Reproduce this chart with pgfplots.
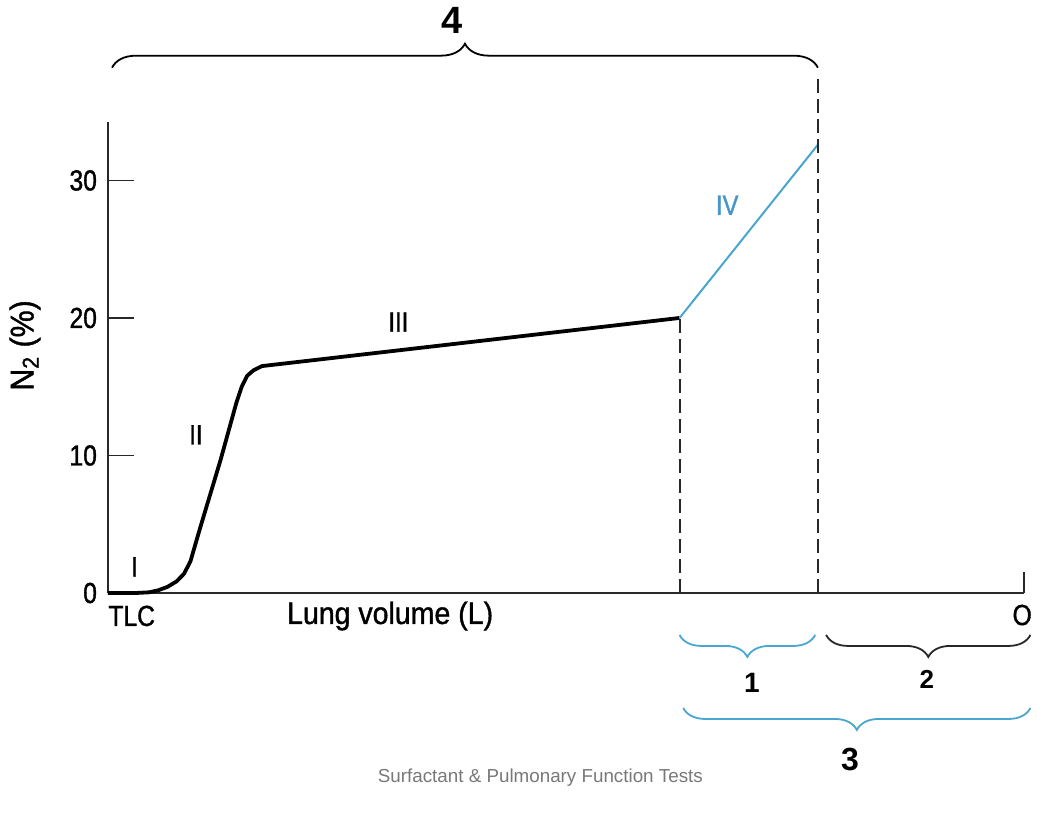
\documentclass[border=0pt]{standalone}
\usepackage{fontspec}
\setmainfont{Liberation Sans}
\newfontfamily\narrowsans[FakeStretch=0.85, FakeBold=1.2]{Liberation Sans}
\newfontfamily\labelsans[FakeStretch=0.92, FakeBold=1.2]{Liberation Sans}
\usepackage{pgfplots}
\pgfplotsset{compat=1.18}
\usetikzlibrary{decorations.pathreplacing}

\definecolor{phaseblue}{RGB}{74,166,206}
\definecolor{labelblue}{RGB}{70,150,200}
\definecolor{axisgray}{RGB}{40,40,40}
\definecolor{captiongray}{RGB}{120,120,120}

\begin{document}
\begin{tikzpicture}
\useasboundingbox (0,0) rectangle (530pt,407pt);
\begin{axis}[
  at={(54pt,110.5pt)}, anchor=south west,
  scale only axis, width=458pt, height=235.5pt,
  xmin=0, xmax=100, ymin=0, ymax=34.25,
  axis lines=left, axis line style={-, axisgray, line width=0.9pt},
  xtick=\empty,
  ytick={0,10,20,30},
  tick align=inside, major tick length=13pt,
  tick style={axisgray, line width=0.9pt},
  /pgf/number format/assume math mode=true,
  yticklabel style={font=\fontsize{14.5}{16}\narrowsans, xshift=-2pt},
  clip=false,
]
% phases I-III of the single-breath nitrogen washout
\addplot[black, line width=1.9pt, line join=round] coordinates {
  (0,0) (3,0) (4.5,0.05) (5.5,0.2) (6.5,0.45) (7.5,0.85) (8.3,1.4)
  (9,2.3) (10,4.6) (12.3,9.7) (14.0,13.8) (14.6,15.0) (15.2,15.8)
  (15.9,16.2) (16.8,16.5) (62.4,20.0)
};
% phase IV
\addplot[phaseblue, line width=1pt] coordinates {(62.4,20.0) (77.5,32.6)};

% dashed markers for closing volume and residual volume
\draw[axisgray, line width=1pt, dash pattern=on 7pt off 3pt]
  (axis cs:62.4,0) -- (axis cs:62.4,20.0);
\draw[axisgray, line width=1pt, dash pattern=on 7pt off 3pt]
  (axis cs:77.5,0) -- (axis cs:77.5,37.4);
% end tick of the volume axis
\draw[axisgray, line width=0.9pt] (axis cs:100,0) -- (axis cs:100,1.55);

% phase labels
\node[font=\fontsize{14}{16}\narrowsans] at (axis cs:2.9,1.9) {I};
\node[font=\fontsize{14}{16}\narrowsans] at (axis cs:9.6,11.5) {II};
\node[font=\fontsize{14}{16}\narrowsans] at (axis cs:31.7,19.7) {III};
\node[font=\fontsize{14}{16}\narrowsans, text=labelblue] at (axis cs:67.6,28.2) {IV};

% axis descriptions
\node[font=\fontsize{14.5}{16}\narrowsans, anchor=west, inner sep=0pt] at (axis cs:0,-1.67) {TLC};
\node[font=\fontsize{15.5}{17}\labelsans] at (axis cs:30.8,-1.67) {Lung volume (L)};
\node[font=\fontsize{14.5}{16}\narrowsans] at (axis cs:99.8,-1.6) {O};
\node[font=\fontsize{16.5}{18}\labelsans, rotate=90] at (axis cs:-9.06,18.0) {N\textsubscript{2} (\%)};

% volume braces
\draw[black, line width=0.9pt, decorate, decoration={brace, amplitude=12pt}]
  (axis cs:0.44,38.2) -- (axis cs:77.5,38.2);
\node[font=\fontsize{19}{20}\selectfont\bfseries] at (axis cs:37.6,41.6) {4};

\draw[phaseblue, line width=0.9pt, decorate, decoration={brace, amplitude=11pt, mirror}]
  (axis cs:62.4,-3.05) -- (axis cs:77.2,-3.05);
\node[font=\fontsize{14}{15}\selectfont\bfseries] at (axis cs:70.3,-6.5) {1};

\draw[axisgray, line width=0.9pt, decorate, decoration={brace, amplitude=11pt, mirror}]
  (axis cs:78.4,-3.05) -- (axis cs:100.7,-3.05);
\node[font=\fontsize{13}{14}\selectfont\bfseries] at (axis cs:89.4,-6.3) {2};

\draw[phaseblue, line width=0.9pt, decorate, decoration={brace, amplitude=11pt, mirror}]
  (axis cs:62.8,-8.36) -- (axis cs:100.7,-8.36);
\node[font=\fontsize{16}{17}\selectfont\bfseries] at (axis cs:81.0,-12.1) {3};

\node[font=\fontsize{9.4}{11}\selectfont, text=captiongray] at (axis cs:47.2,-13.4) {Surfactant \& Pulmonary Function Tests};
\end{axis}
\end{tikzpicture}
\end{document}
